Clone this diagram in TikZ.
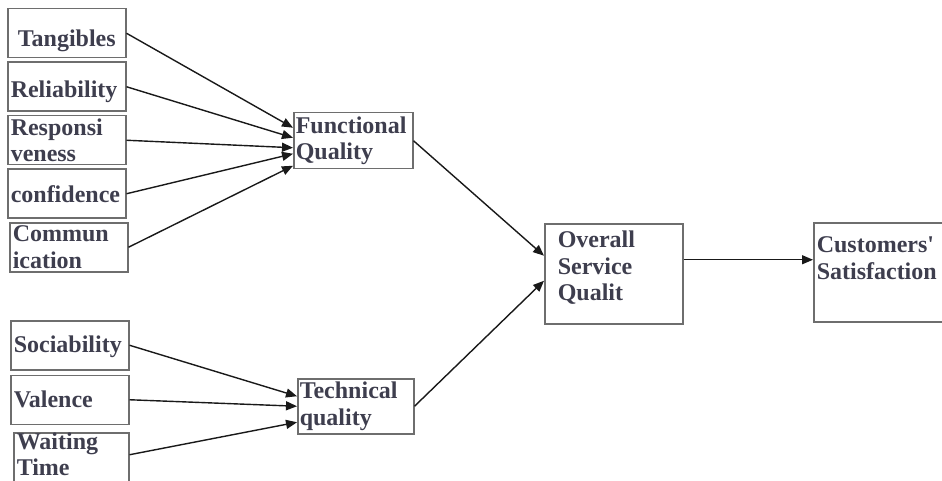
\documentclass[tikz,border=0pt]{standalone}
\usepackage{fontspec}
\setmainfont{Liberation Serif}
\usetikzlibrary{arrows.meta, positioning, calc}
\definecolor{BoxGray}{RGB}{110,110,110}
\definecolor{InkGray}{RGB}{62,62,78}
\definecolor{ArrowBlack}{RGB}{25,25,25}

\begin{document}
\begin{tikzpicture}[x=1pt, y=-1pt]
        \tikzstyle{factor} = [rectangle, draw=BoxGray, line width=1.5pt, minimum width=118pt, minimum height=49pt, text width=112pt, inner xsep=3pt, inner ysep=0pt, align=left, text=InkGray, font=\fontsize{24}{26.5}\selectfont\bfseries]
        \tikzstyle{quality} = [factor, minimum width=119pt, minimum height=56pt, text width=115pt, inner xsep=2pt]
        \tikzstyle{arrow} = [-{Triangle[length=11pt, width=9pt]}, line width=1.4pt, ArrowBlack]

        \useasboundingbox (0,0) rectangle (942,481);

        % Dimensions (functional)
        \node (tang) [factor, align=center, anchor=north west, text height=38pt, text depth=11pt] at (7,8) {Tangibles};
        \node (reli) [factor, below=3pt of tang, text height=35pt, text depth=14pt] {Reliability};
        \node (resp) [factor, below=3pt of reli] {Responsi\\veness};
        \node (conf) [factor, below=3pt of resp] {confidence};
        \node (comm) [factor, below=3pt of conf, xshift=2pt] {Commun\\ication};

        % Dimensions (technical)
        \node (soci) [factor, anchor=north west, text height=32pt, text depth=17pt] at (10,320) {Sociability};
        \node (vale) [factor, below=4pt of soci] {Valence};
        \node (wait) [factor, anchor=north west, minimum width=115pt, minimum height=50pt, text width=109pt, text height=16.5pt, text depth=33.5pt] at (13,432) {Waiting\\Time};

        % Quality nodes
        \node (func) [quality, anchor=north west] at (293,112) {Functional\\Quality};
        \node (tech) [quality, anchor=north west, minimum height=55pt, minimum width=116pt, text width=112pt] at (297,378) {Technical\\quality};
        \node (over) [factor, anchor=north west, minimum width=138pt, minimum height=100pt, text width=112pt, inner xsep=13pt, text height=24pt, text depth=76pt] at (544,223) {Overall\\Service\\Qualit};
        \node (cust) [factor, anchor=north west, minimum height=99pt, text width=150pt, text height=30pt, text depth=69pt] at (813,222) {Customers\textquotesingle\\Satisfaction};

        % Arrows
        \draw [arrow] (tang.east) -- ([yshift=13pt]func.west);
        \draw [arrow] (reli.east) -- ([yshift=3pt]func.west);
        \draw [arrow] (resp.east) -- ([yshift=-7pt]func.west);
        \draw [arrow] (conf.east) -- ([yshift=-13pt]func.west);
        \draw [arrow] (comm.east) -- ([yshift=-25pt]func.west);

        \draw [arrow] (soci.east) -- ([yshift=10pt]tech.west);
        \draw [arrow] (vale.east) -- (tech.west);
        \draw [arrow] ([yshift=3pt]wait.east) -- ([yshift=-16pt]tech.west);

        \draw [arrow] (func.east) -- ([yshift=18pt]over.west);
        \draw [arrow] (tech.east) -- ([yshift=-7pt]over.west);
        \draw [arrow] ([yshift=14pt]over.east) -- ([yshift=14pt]over.east -| cust.west);
    \end{tikzpicture}
\end{document}
